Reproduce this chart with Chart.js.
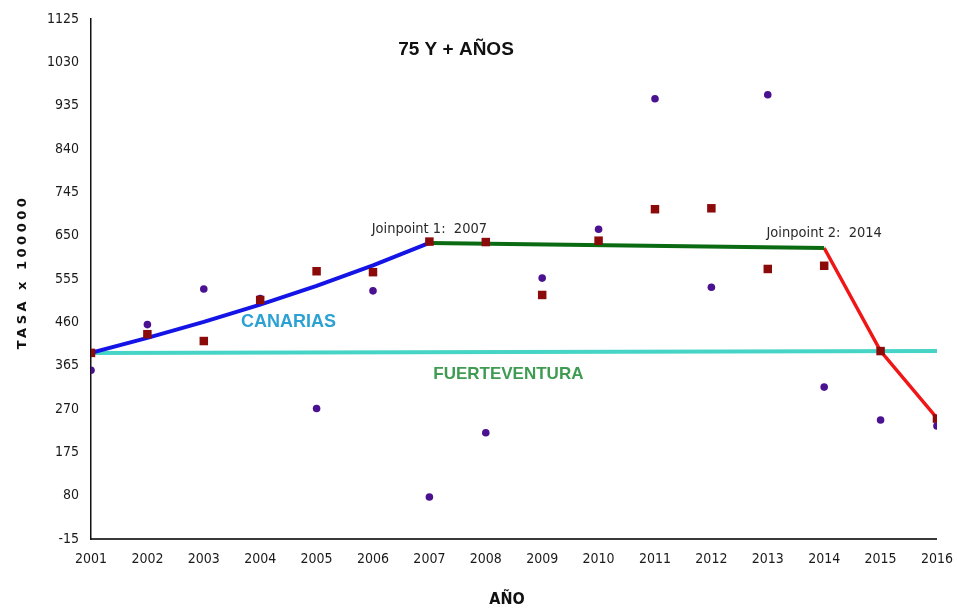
<!DOCTYPE html>
<html>
<head>
<meta charset="utf-8">
<script src="https://cdn.jsdelivr.net/npm/chart.js@4.4.1/dist/chart.umd.min.js"></script>
<style>
    html, body { margin: 0; padding: 0; background: #fff; }
</style>
</head>
<body>
<canvas id="chart" width="957" height="612"></canvas>
<script>
// observed rates per year
const years = [2001, 2002, 2003, 2004, 2005, 2006, 2007, 2008, 2009, 2010, 2011, 2012, 2013, 2014, 2015, 2016];
const fuerteventura = [355, 455, 533, 512, 271, 529, 77, 218, 557, 664, 950, 537, 959, 318, 246, 233];
const canarias = [393, 434, 419, 509, 572, 570, 637, 636, 520, 639, 708, 710, 577, 584, 397, 249];

// joinpoint trend segments (Canarias)
const seg1Years = [2001, 2002, 2003, 2004, 2005, 2006, 2007];
const seg1 = [393, 426, 461, 499, 540, 585, 634];
const seg2Years = [2007, 2014];
const seg2 = [634, 623];
const seg3Years = [2014, 2015, 2016];
const seg3 = [623, 397, 250];

// Fuerteventura trend
const fvTrendYears = [2001, 2016];
const fvTrend = [393, 397];

const yTicks = [-15, 80, 175, 270, 365, 460, 555, 650, 745, 840, 935, 1030, 1125];

const narrow = "'DejaVu Sans Condensed', 'Liberation Sans', Arial, sans-serif";
const tickFont = { family: narrow, size: 14 };

const toPoints = (xs, ys) => xs.map((x, i) => ({ x, y: ys[i] }));

const lineSet = (label, xs, ys, color, width, order) => ({
    type: 'line',
    label,
    data: toPoints(xs, ys),
    borderColor: color,
    borderWidth: width,
    pointRadius: 0,
    fill: false,
    tension: 0,
    order
});

const textPlugin = {
    id: 'texts',
    afterDraw(chart) {
        const { ctx, scales: { x, y } } = chart;
        ctx.save();
        ctx.textAlign = 'center';
        ctx.textBaseline = 'middle';

        ctx.fillStyle = '#111';
        ctx.font = "bold 19px 'Liberation Sans', Arial, sans-serif";
        ctx.fillText('75 Y + AÑOS', 456, 50);

        ctx.fillStyle = '#2ca2d4';
        ctx.font = "bold 18px 'Liberation Sans', Arial, sans-serif";
        ctx.fillText('CANARIAS', x.getPixelForValue(2004.5), y.getPixelForValue(460));

        ctx.fillStyle = '#3f9b52';
        ctx.font = "bold 17px 'Liberation Sans', Arial, sans-serif";
        ctx.fillText('FUERTEVENTURA', x.getPixelForValue(2008.4), y.getPixelForValue(345));

        ctx.fillStyle = '#2a2a2a';
        ctx.font = '14.5px ' + narrow;
        ctx.fillText('Joinpoint 1:  2007', x.getPixelForValue(2007), y.getPixelForValue(664));
        ctx.fillText('Joinpoint 2:  2014', x.getPixelForValue(2014), y.getPixelForValue(655));

        // axis titles
        ctx.fillStyle = '#111';
        ctx.font = 'bold 16px ' + narrow;
        ctx.fillText('AÑO', 507, 600);

        ctx.translate(23, 272);
        ctx.rotate(-Math.PI / 2);
        ctx.font = "bold 13px 'DejaVu Sans', Verdana, sans-serif";
        ctx.letterSpacing = '3.5px';
        ctx.fillText('TASA x 100000', 0, 0);
        ctx.restore();
    }
};

new Chart(document.getElementById('chart'), {
    data: {
        datasets: [
            {
                type: 'scatter',
                label: 'Canarias',
                data: toPoints(years, canarias),
                pointStyle: 'rect',
                pointRadius: 6,
                backgroundColor: '#8b0a0a',
                borderColor: '#8b0a0a',
                borderWidth: 0,
                order: 1
            },
            {
                type: 'scatter',
                label: 'Fuerteventura',
                data: toPoints(years, fuerteventura),
                pointStyle: 'circle',
                pointRadius: 3.8,
                backgroundColor: '#4a1290',
                borderColor: '#4a1290',
                borderWidth: 0,
                order: 2
            },
            lineSet('Tendencia Fuerteventura', fvTrendYears, fvTrend, '#46d4c6', 4, 6),
            lineSet('Segmento 1', seg1Years, seg1, '#1414e6', 4, 3),
            lineSet('Segmento 2', seg2Years, seg2, '#0b6b12', 4, 4),
            lineSet('Segmento 3', seg3Years, seg3, '#f01616', 3.5, 5)
        ]
    },
    options: {
        responsive: false,
        animation: false,
        layout: { padding: { top: 19, right: 20, left: 0, bottom: 0 } },
        plugins: {
            legend: { display: false },
            tooltip: { enabled: false }
        },
        scales: {
            x: {
                type: 'linear',
                min: 2001,
                max: 2016,
                grid: { display: false },
                border: { display: true, color: '#3a3a3a', width: 2 },
                ticks: {
                    stepSize: 1,
                    color: '#1a1a1a',
                    font: tickFont,
                    padding: 4,
                    maxRotation: 0,
                    callback: (v) => String(v)
                },
                afterFit: (s) => { s.height = 73; }
            },
            y: {
                type: 'linear',
                min: -15,
                max: 1125,
                grid: { display: false },
                border: { display: true, color: '#111', width: 1.5 },
                ticks: {
                    color: '#1a1a1a',
                    font: tickFont,
                    padding: 4,
                    callback: (v) => String(v)
                },
                afterBuildTicks: (s) => { s.ticks = yTicks.map((v) => ({ value: v })); },
                afterFit: (s) => { s.width = 91; }
            }
        }
    },
    plugins: [textPlugin]
});
</script>
</body>
</html>
